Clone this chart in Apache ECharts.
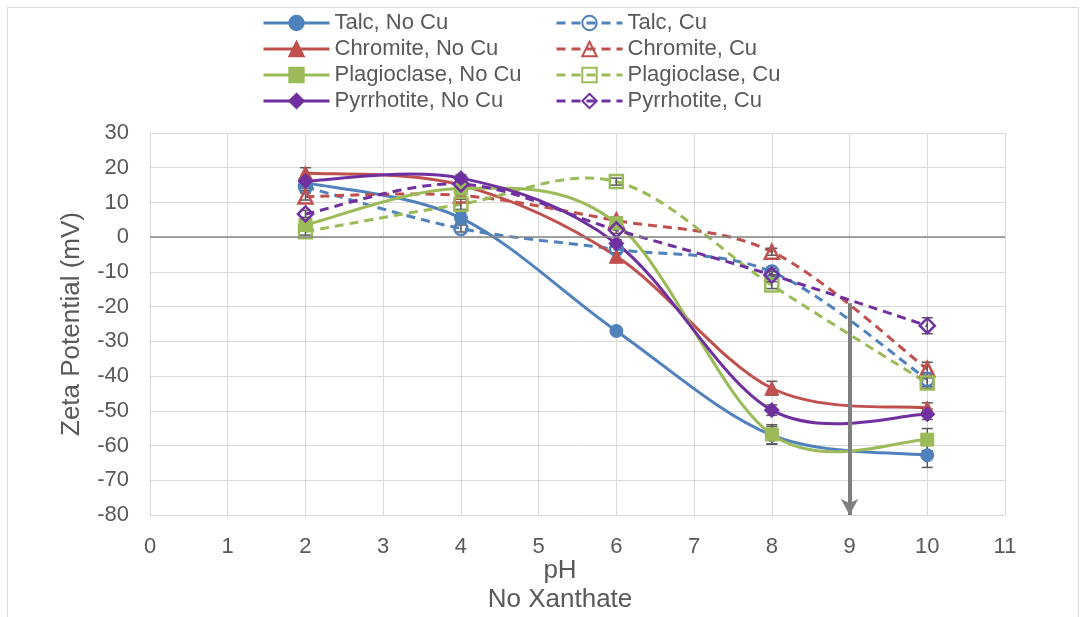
<!DOCTYPE html>
<html>
<head>
<meta charset="utf-8">
<title>Zeta Potential vs pH</title>
<script src="https://cdn.jsdelivr.net/npm/echarts@6/dist/echarts.min.js"></script>
<style>
  html, body { margin: 0; padding: 0; background: #fff; }
  #chart { width: 1086px; height: 617px; }
</style>
</head>
<body>
<div id="chart"></div>
<script>
// pH values at which the zeta potential was measured
const pH = [2, 4, 6, 8, 10];

// Zeta potential (mV), without copper
const talcNoCu = [15.7, 5.5, -27, -57, -62.8];
const chromiteNoCu = [18.5, 15, -5.5, -43.5, -49.2];
const plagioclaseNoCu = [3.5, 14, 4, -56.8, -58.3];
const pyrrhotiteNoCu = [16.2, 17, -1.8, -49.8, -51];

// Zeta potential (mV), with copper
const talcCu = [14.5, 2.5, -3.5, -10, -41];
const chromiteCu = [11.7, 12, 4.8, -4.2, -38];
const plagioclaseCu = [1.6, 9.5, 16, -13.8, -42];
const pyrrhotiteCu = [6.7, 15.3, 2.1, -10.9, -25.5];

// Error bar half-widths (mV)
const talcNoCuErr = [1.5, 1.5, 1, 2.5, 3.5];
const chromiteNoCuErr = [1.5, 1, 1, 2, 1.5];
const plagioclaseNoCuErr = [1, 1, 1, 2.8, 3.2];
const pyrrhotiteNoCuErr = [1, 1, 1, 1.5, 1.5];
const talcCuErr = [1, 1, 1, 1, 2];
const chromiteCuErr = [1, 1, 1, 1, 2];
const plagioclaseCuErr = [1, 1.5, 1, 1, 1.5];
const pyrrhotiteCuErr = [1, 1, 1, 1, 2.3];

// Axis ticks
const xTicks = { min: 0, max: 11, step: 1 };
const yTicks = { min: -80, max: 30, step: 10 };

// Arrow at pH 9
const arrowPh = 9;
const arrowFrom = -19;
const arrowTo = -80;

const BLUE = '#4F81BD', RED = '#C0504D', GREEN = '#9BBB59', PURPLE = '#7030A0';
const TEXT = '#595959';
const FONT = '"Liberation Sans", Arial, sans-serif';
const DASH = [9, 6];

function pairs(values) {
  return pH.map((x, i) => [x, values[i]]);
}

// Smoothed connecting curve (cardinal spline, tension 1/6) drawn in pixel space
function curveSeries(values, color, dashed) {
  return {
    type: 'custom',
    silent: true,
    z: 2,
    data: pairs(values),
    encode: { x: 0, y: 1 },
    renderItem: function (params, api) {
      if (params.dataIndex !== 0) return;
      const pts = pH.map((x, i) => api.coord([x, values[i]]));
      let d = 'M' + pts[0][0] + ',' + pts[0][1];
      for (let i = 0; i < pts.length - 1; i++) {
        const p0 = pts[i - 1] || pts[i];
        const p1 = pts[i];
        const p2 = pts[i + 1];
        const p3 = pts[i + 2] || pts[i + 1];
        const c1x = p1[0] + (p2[0] - p0[0]) / 6, c1y = p1[1] + (p2[1] - p0[1]) / 6;
        const c2x = p2[0] - (p3[0] - p1[0]) / 6, c2y = p2[1] - (p3[1] - p1[1]) / 6;
        d += ' C' + c1x + ',' + c1y + ' ' + c2x + ',' + c2y + ' ' + p2[0] + ',' + p2[1];
      }
      return {
        type: 'path',
        shape: { pathData: d },
        style: { fill: 'none', stroke: color, lineWidth: 3, lineDash: dashed ? DASH : null, lineCap: 'butt' }
      };
    }
  };
}

// Markers (and legend entries) for each data series
function markerSeries(name, values, color, symbol, open) {
  const size = symbol === 'diamond' ? 15 : (symbol === 'triangle' ? 14 : 13);
  return {
    name: name,
    type: 'line',
    data: pairs(values),
    symbol: symbol,
    symbolSize: size,
    showAllSymbol: true,
    z: 4,
    lineStyle: { color: color, width: 0, opacity: 0 },
    itemStyle: open
      ? { color: 'rgba(255,255,255,0)', borderColor: color, borderWidth: 2.5 }
      : { color: color, borderColor: color, borderWidth: 1 },
    emphasis: { disabled: true }
  };
}

function errorSeries(values, errs) {
  return {
    type: 'custom',
    silent: true,
    z: 3,
    data: pH.map((x, i) => [x, values[i] - errs[i], values[i] + errs[i]]),
    encode: { x: 0, y: [1, 2] },
    renderItem: function (params, api) {
      const x = api.value(0);
      const top = api.coord([x, api.value(2)]);
      const bot = api.coord([x, api.value(1)]);
      const w = 5.5;
      const style = { stroke: '#595959', lineWidth: 1.5 };
      return {
        type: 'group',
        children: [
          { type: 'line', shape: { x1: top[0], y1: top[1], x2: bot[0], y2: bot[1] }, style: style },
          { type: 'line', shape: { x1: top[0] - w, y1: top[1], x2: top[0] + w, y2: top[1] }, style: style },
          { type: 'line', shape: { x1: bot[0] - w, y1: bot[1], x2: bot[0] + w, y2: bot[1] }, style: style }
        ]
      };
    }
  };
}

function legendItem(name, color, dashed) {
  return { name: name, lineStyle: { color: color, width: 3, type: dashed ? DASH : 'solid', opacity: 1 } };
}

const chart = echarts.init(document.getElementById('chart'), null, { renderer: 'canvas' });

const legendText = { color: TEXT, fontSize: 22, fontFamily: FONT, lineHeight: 22 };
const legendBase = {
  orient: 'vertical',
  top: 12,
  padding: 0,
  itemWidth: 66,
  itemHeight: 18,
  itemGap: 4,
  textStyle: legendText,
  selectedMode: false
};

const titleStyle = { fill: TEXT, fontSize: 26, fontFamily: FONT, align: 'center', verticalAlign: 'middle' };

const option = {
  backgroundColor: '#fff',
  animation: false,
  textStyle: { fontFamily: FONT },
  graphic: [{
    type: 'rect',
    shape: { x: 7.5, y: 7.5, width: 1071, height: 640 },
    style: { fill: 'none', stroke: '#d9d9d9', lineWidth: 1 },
    silent: true,
    z: -10
  }, {
    type: 'text',
    x: 560,
    y: 571,
    silent: true,
    style: Object.assign({ text: 'pH' }, titleStyle)
  }, {
    type: 'text',
    x: 560,
    y: 600,
    silent: true,
    style: Object.assign({ text: 'No Xanthate' }, titleStyle)
  }],
  legend: [
    Object.assign({}, legendBase, {
      left: 262,
      data: [
        legendItem('Talc, No Cu', BLUE, false),
        legendItem('Chromite, No Cu', RED, false),
        legendItem('Plagioclase, No Cu', GREEN, false),
        legendItem('Pyrrhotite, No Cu', PURPLE, false)
      ]
    }),
    Object.assign({}, legendBase, {
      left: 555,
      data: [
        legendItem('Talc, Cu', BLUE, true),
        legendItem('Chromite, Cu', RED, true),
        legendItem('Plagioclase, Cu', GREEN, true),
        legendItem('Pyrrhotite, Cu', PURPLE, true)
      ]
    })
  ],
  grid: { left: 150, right: 81, top: 133, bottom: 102, containLabel: false, outerBoundsMode: 'none' },
  xAxis: {
    type: 'value',
    min: xTicks.min,
    max: xTicks.max,
    interval: xTicks.step,
    axisLine: { show: true, onZero: false, lineStyle: { color: '#d9d9d9', width: 1 } },
    axisTick: { show: false },
    axisLabel: { color: TEXT, fontSize: 22, margin: 21, fontFamily: FONT },
    splitLine: { show: true, lineStyle: { color: '#d9d9d9', width: 1 } }
  },
  yAxis: {
    type: 'value',
    min: yTicks.min,
    max: yTicks.max,
    interval: yTicks.step,
    name: 'Zeta Potential (mV)',
    nameLocation: 'middle',
    nameGap: 65,
    nameTextStyle: { color: TEXT, fontSize: 26, fontFamily: FONT },
    axisLine: { show: true, lineStyle: { color: '#d9d9d9', width: 1 } },
    axisTick: { show: false },
    axisLabel: { color: TEXT, fontSize: 22, margin: 21, fontFamily: FONT },
    splitLine: { show: true, lineStyle: { color: '#d9d9d9', width: 1 } }
  },
  series: [
    {
      type: 'line',
      data: [],
      silent: true,
      z: 1,
      markLine: {
        silent: true,
        symbol: ['none', 'none'],
        label: { show: false },
        lineStyle: { color: '#868686', width: 1.5, type: 'solid' },
        data: [{ yAxis: 0 }]
      }
    },
    {
      type: 'line',
      data: [],
      silent: true,
      z: 5,
      markLine: {
        silent: true,
        symbol: ['none', 'arrow'],
        symbolSize: [13, 16],
        label: { show: false },
        lineStyle: { color: '#7f7f7f', width: 4, type: 'solid' },
        data: [[{ coord: [arrowPh, arrowFrom] }, { coord: [arrowPh, arrowTo] }]]
      }
    },
    curveSeries(talcNoCu, BLUE, false),
    curveSeries(talcCu, BLUE, true),
    curveSeries(chromiteNoCu, RED, false),
    curveSeries(chromiteCu, RED, true),
    curveSeries(plagioclaseNoCu, GREEN, false),
    curveSeries(plagioclaseCu, GREEN, true),
    curveSeries(pyrrhotiteNoCu, PURPLE, false),
    curveSeries(pyrrhotiteCu, PURPLE, true),
    errorSeries(talcNoCu, talcNoCuErr),
    errorSeries(talcCu, talcCuErr),
    errorSeries(chromiteNoCu, chromiteNoCuErr),
    errorSeries(chromiteCu, chromiteCuErr),
    errorSeries(plagioclaseNoCu, plagioclaseNoCuErr),
    errorSeries(plagioclaseCu, plagioclaseCuErr),
    errorSeries(pyrrhotiteNoCu, pyrrhotiteNoCuErr),
    errorSeries(pyrrhotiteCu, pyrrhotiteCuErr),
    markerSeries('Talc, No Cu', talcNoCu, BLUE, 'circle', false),
    markerSeries('Talc, Cu', talcCu, BLUE, 'circle', true),
    markerSeries('Chromite, No Cu', chromiteNoCu, RED, 'triangle', false),
    markerSeries('Chromite, Cu', chromiteCu, RED, 'triangle', true),
    markerSeries('Plagioclase, No Cu', plagioclaseNoCu, GREEN, 'rect', false),
    markerSeries('Plagioclase, Cu', plagioclaseCu, GREEN, 'rect', true),
    markerSeries('Pyrrhotite, No Cu', pyrrhotiteNoCu, PURPLE, 'diamond', false),
    markerSeries('Pyrrhotite, Cu', pyrrhotiteCu, PURPLE, 'diamond', true)
  ]
};

chart.setOption(option);
</script>
</body>
</html>
